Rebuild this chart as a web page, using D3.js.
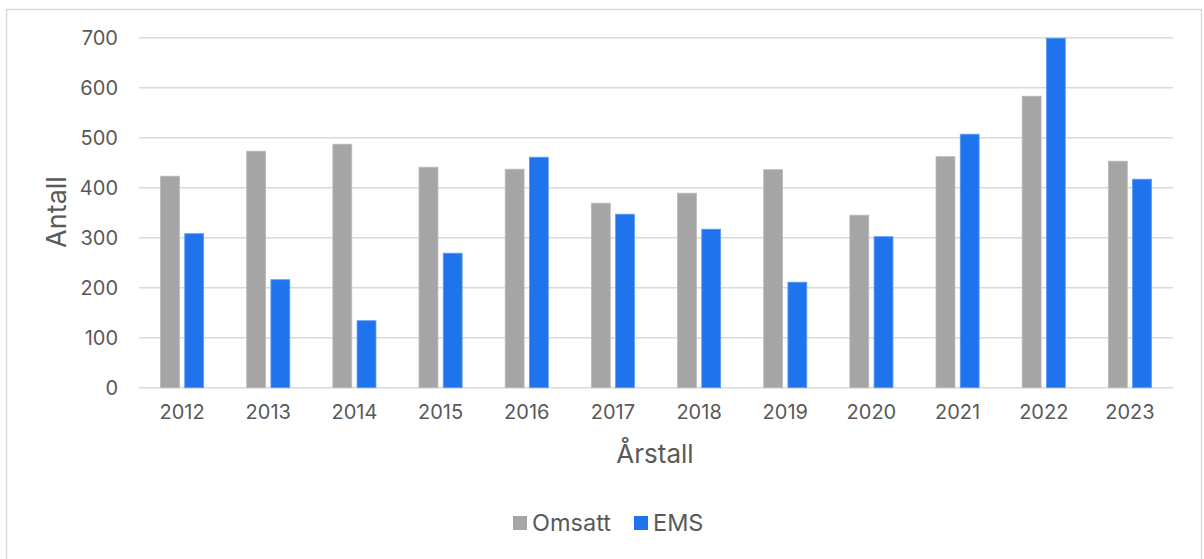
<!DOCTYPE html>
<html><head><meta charset="utf-8">
<script src="https://cdn.jsdelivr.net/npm/d3@7"></script>
<style>body{margin:0;background:#fff}svg{display:block;font-family:Inter,"Noto Sans",sans-serif}</style>
</head><body><svg id="c" width="1204" height="559"></svg>
<script>
const years = ["2012","2013","2014","2015","2016","2017","2018","2019","2020","2021","2022","2023"];
const omsatt = [423, 473, 487, 441, 437, 369, 389, 436, 345, 462, 583, 453];
const ems = [308, 216, 134, 269, 461, 347, 317, 211, 302, 507, 699, 417];
const yTicks = [0,100,200,300,400,500,600,700];
const seriesNames = ["Omsatt","EMS"];
const colors = ["#A5A5A5","#1F74EE"];

(function(){
const svg = d3.select("#c");
svg.append("rect").attr("x",6.5).attr("y",9.5).attr("width",1195).attr("height",560)
  .attr("fill","#fff").attr("stroke","#D9D9D9").attr("stroke-width",1.5);

const pl = 139, pr = 1173, pt = 37.7, pb = 387.7;
const x = d3.scaleBand().domain(years).range([pl,pr]).paddingInner(0.5).paddingOuter(0.25);
const y = d3.scaleLinear().domain([0,700]).range([pb,pt]);
const inner = d3.scaleBand().domain(seriesNames).range([0,x.bandwidth()]).paddingInner(0.22);

const grid = svg.append("g");
grid.selectAll("line").data(yTicks).join("line")
  .attr("x1",pl).attr("x2",pr).attr("y1",d=>y(d)).attr("y2",d=>y(d))
  .attr("stroke","#D9D9D9").attr("stroke-width",1.5);

const yAxis = svg.append("g").attr("transform",`translate(${pl-6},0)`)
  .call(d3.axisLeft(y).tickValues(yTicks).tickSize(0).tickPadding(15));
yAxis.select(".domain").remove();
yAxis.selectAll("text").attr("font-size",20).attr("fill","#595959").attr("font-family","Inter,'Noto Sans',sans-serif");

const xAxis = svg.append("g").attr("transform",`translate(0,${pb})`)
  .call(d3.axisBottom(x).tickSize(0).tickPadding(17));
xAxis.select(".domain").remove();
xAxis.selectAll("text").attr("font-size",20).attr("fill","#595959").attr("font-family","Inter,'Noto Sans',sans-serif");

const data = years.map((yr,i)=>({yr, vals:[omsatt[i], ems[i]]}));
const g = svg.append("g");
data.forEach(d=>{
  d.vals.forEach((v,j)=>{
    g.append("rect")
      .attr("x", x(d.yr)+inner(seriesNames[j]))
      .attr("width", inner.bandwidth())
      .attr("y", y(v)).attr("height", y(0)-y(v))
      .attr("fill", colors[j])
      .attr("stroke", j===0? "#B8B8B8":"#5C9BF5").attr("stroke-width",0.8);
  });
});

svg.append("text").attr("transform",`translate(66,212) rotate(-90)`).attr("text-anchor","middle")
  .attr("font-size",27).attr("fill","#595959").text("Antall");
svg.append("text").attr("x",655).attr("y",463).attr("text-anchor","middle")
  .attr("font-size",26).attr("fill","#595959").text("Årstall");

const leg = svg.append("g");
const legItems = [{n:"Omsatt",c:colors[0],x:513},{n:"EMS",c:colors[1],x:634}];
legItems.forEach(it=>{
  leg.append("rect").attr("x",it.x).attr("y",516).attr("width",14).attr("height",14).attr("fill",it.c);
  leg.append("text").attr("x",it.x+19).attr("y",531).attr("font-size",23.5).attr("fill","#595959").text(it.n);
});
})();
</script></body></html>
